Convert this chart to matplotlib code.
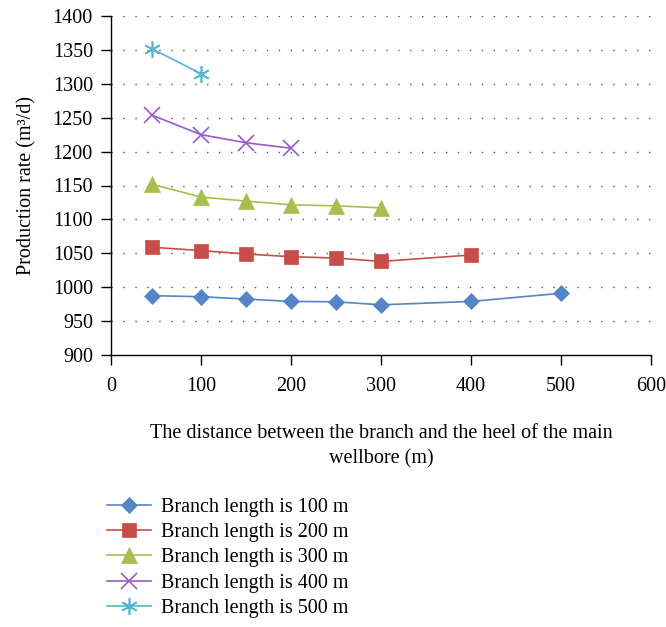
import numpy as np
import matplotlib.pyplot as plt

plt.rcParams['font.family'] = ['Liberation Serif', 'DejaVu Serif']

# distance from the heel of the main wellbore (m)
dist_100 = [45, 100, 150, 200, 250, 300, 400, 500]
dist_200 = [45, 100, 150, 200, 250, 300, 400]
dist_300 = [45, 100, 150, 200, 250, 300]
dist_400 = [45, 100, 150, 200]
dist_500 = [45, 100]

# production rate (m3/d) for each branch length
rate_100 = [987.5, 986, 982.5, 979, 978.5, 974, 979, 991]
rate_200 = [1059, 1054, 1049, 1045, 1043, 1038, 1047.5]
rate_300 = [1152, 1133, 1127, 1121.5, 1120, 1117]
rate_400 = [1254, 1225, 1213, 1205]
rate_500 = [1352, 1315]

labels = ['Branch length is 100 m', 'Branch length is 200 m', 'Branch length is 300 m',
          'Branch length is 400 m', 'Branch length is 500 m']
colors = ['#5585C5', '#C84D4A', '#A6BF4E', '#9A5CC2', '#55B4CE']
markers = ['D', 's', '^', 'x', (6, 2, 0)]
sizes = [8, 10, 12, 11, 12]

FS = 14.5

fig = plt.figure(figsize=(6.66, 6.27), dpi=100)
ax = fig.add_axes([111/666, 1 - 355/627, 540/666, 339/627])

series = [(dist_100, rate_100), (dist_200, rate_200), (dist_300, rate_300),
          (dist_400, rate_400), (dist_500, rate_500)]
handles = []
for (x, y), lab, c, m, s in zip(series, labels, colors, markers, sizes):
    thin = m == 'x' or isinstance(m, tuple)
    h, = ax.plot(x, y, color=c, lw=1.2, marker=m, markersize=s,
                 markeredgecolor=c, markeredgewidth=1.2 if thin else 0.5,
                 label=lab)
    handles.append(h)

ax.set_xlim(0, 600)
ax.set_ylim(900, 1400)
ax.set_xticks(np.arange(0, 601, 100))
ax.set_yticks(np.arange(900, 1401, 50))
for yv in np.arange(950, 1401, 50):
    ax.axhline(yv, color='#555555', lw=1.0, linestyle=(0, (1, 7.6)), zorder=0)

for sp in ['top', 'right']:
    ax.spines[sp].set_visible(False)
for sp in ['left', 'bottom']:
    ax.spines[sp].set_linewidth(1.0)
ax.tick_params(direction='out', length=7, width=1.0, labelsize=FS)
ax.tick_params(axis='x', pad=9)
ax.tick_params(axis='y', pad=6)

ax.set_ylabel('Production rate (m³/d)', fontsize=FS, labelpad=12)
ax.set_xlabel('The distance between the branch and the heel of the main\nwellbore (m)',
              fontsize=FS, labelpad=20, linespacing=1.45)

fig.legend(handles=handles, loc='upper left', bbox_to_anchor=(99/666, 1 - 490/627),
           frameon=False, fontsize=FS, handlelength=2.2, handletextpad=0.5,
           labelspacing=0.3, borderaxespad=0)

fig.savefig('out.png', dpi=100)
